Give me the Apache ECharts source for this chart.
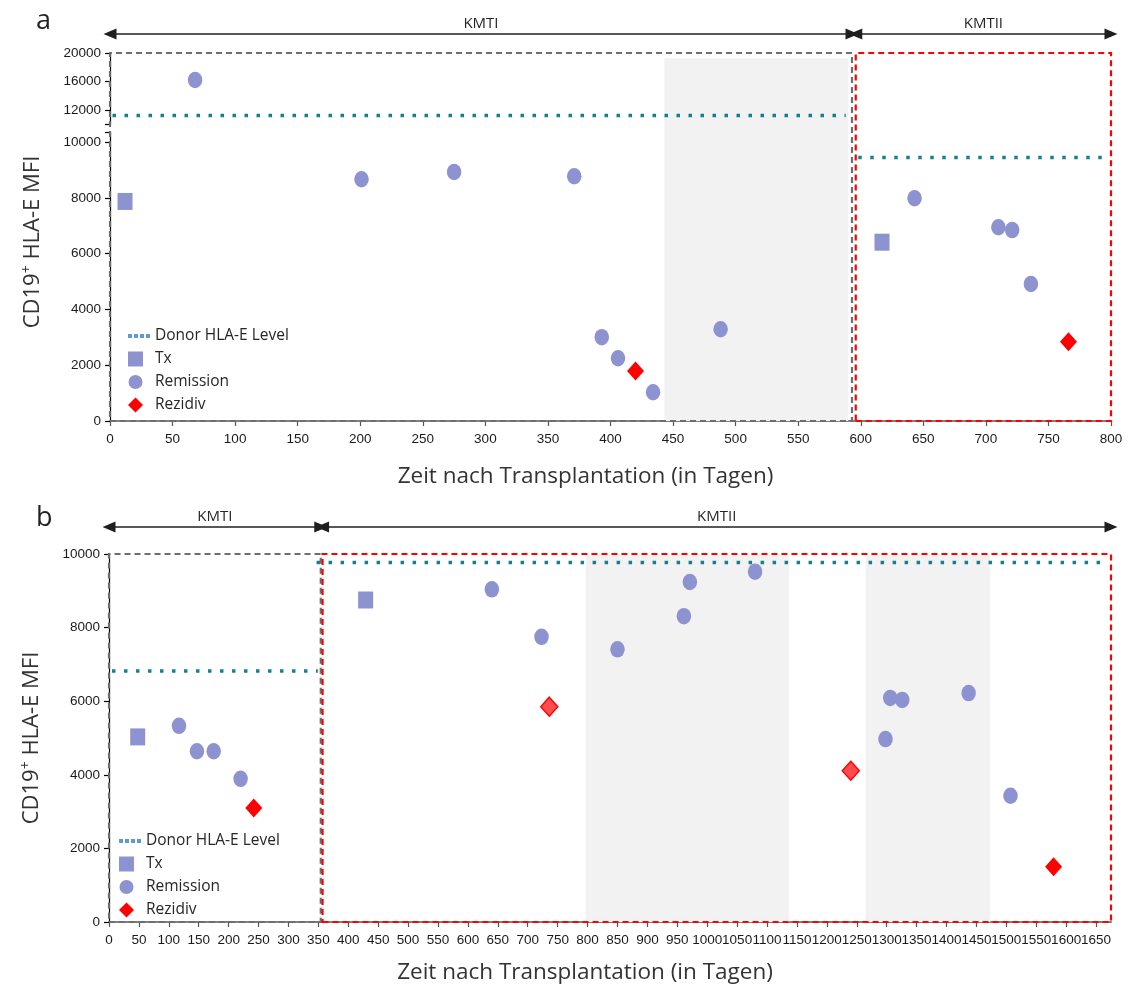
<!DOCTYPE html>
<html><head><meta charset="utf-8">
<script src="https://cdn.jsdelivr.net/npm/echarts@6/dist/echarts.min.js"></script>
<style>html,body{margin:0;padding:0;background:#fff}#c{width:1128px;height:997px}</style>
</head><body><div id="c"></div>
<script>
// ================= DATA =================
// Panel a
const aXTicks = [0,50,100,150,200,250,300,350,400,450,500,550,600,650,700,750,800];
const aYTicksUpper = [12000,16000,20000];
const aYTicksLower = [0,2000,4000,6000,8000,10000];
const aTx = [[12,7870],[617,6410]];
const aRemission = [[68,16200],[201,8665],[275,8925],[371,8775],[393,3005],[406,2250],[434,1030],[488,3290],[643,7985],[710,6945],[721,6845],[736,4910]];
const aRezidiv = [[420,1790],[766,2845]];
const aDonor = [{from:2,to:588,value:11200},{from:598,to:796,value:9450}];
const aPhases = [{name:'KMTI',from:0,to:593},{name:'KMTII',from:596,to:800}];
const aShade = [[443,590]];

// Panel b
const bXTicks = [0,50,100,150,200,250,300,350,400,450,500,550,600,650,700,750,800,850,900,950,1000,1050,1100,1150,1200,1250,1300,1350,1400,1450,1500,1550,1600,1650];
const bYTicks = [0,2000,4000,6000,8000,10000];
const bTx = [[48,5030],[429,8750]];
const bRemission = [[117,5330],[147,4640],[175,4640],[220,3890],[640,9040],[723,7750],[850,7410],[961,8310],[971,9240],[1080,9520],[1298,4970],[1306,6090],[1326,6035],[1437,6220],[1507,3430]];
const bRezidiv = [[242,3100],[736,5850],[1240,4110],[1579,1500]];
const bDonor = [{from:5,to:349,value:6820},{from:347,to:1670,value:9770}];
const bPhases = [{name:'KMTI',from:0,to:354},{name:'KMTII',from:357,to:1675}];
const bShade = [[797,1137],[1265,1473]];

// ================= STYLE =================
const FT = '"Open Sans","DejaVu Sans",sans-serif';
const FN = '"Liberation Sans",Arial,sans-serif';
const MARK = '#8c93d0';
const RED = '#ff0000';
const TEAL = '#17808e';
const A_SPLIT = 10360; // top of lower segment in panel a

const chart = echarts.init(document.getElementById('c'), null, {renderer:'canvas'});

const plain = v => String(v);
const tickLabel = {fontFamily:FN, fontSize:13.5, color:'#1a1a1a', formatter:plain, hideOverlap:false, showMaxLabel:true, showMinLabel:true};
function hiddenAxis(gi, min, max){ return {gridIndex:gi, type:'value', min, max, show:false}; }

function donorSeries(seg, xi, yi){
  return {type:'line', name:'Donor HLA-E Level', xAxisIndex:xi, yAxisIndex:yi, z:4,
    data:[[seg.from,seg.value],[seg.to,seg.value]], symbol:'none', showSymbol:false, silent:true,
    lineStyle:{color:TEAL, width:3.5, type:[3.5,8.5], cap:'butt'}};
}
function scatter(name, data, xi, yi, symbol, size, color, extra){
  return Object.assign({type:'scatter', name, xAxisIndex:xi, yAxisIndex:yi, z:5, symbol, symbolSize:size,
    itemStyle:{color, opacity:1}, data, silent:true}, extra||{});
}
function arrowSeries(phases, xi, yi){
  return {type:'scatter', xAxisIndex:xi, yAxisIndex:yi, data:[], silent:true, clip:false,
    markLine:{silent:true, symbol:['triangle','triangle'], symbolSize:[11,13], animation:false,
      lineStyle:{color:'#1f1f1f', width:1.5, type:'solid'},
      label:{show:true, formatter:'{b}', position:'insideMiddleTop', distance:3, fontFamily:FT, fontSize:15, color:'#262626'},
      data: phases.map(p=>[{name:p.name, coord:[p.from,0.5]},{coord:[p.to,0.5]}])}};
}
function overlaySeries(phases, shades, xi, yi, yLo, yHi, shadeHi){
  const items = [];
  shades.forEach(s=>items.push([{xAxis:s[0], yAxis:yLo, itemStyle:{color:'#f2f2f2', borderWidth:0}},{xAxis:s[1], yAxis:shadeHi}]));
  phases.forEach((p,i)=>items.push([{xAxis:p.from, yAxis:yLo, itemStyle:{color:'rgba(0,0,0,0)', borderColor: i===0?'#6e6e6e':RED, borderWidth:2.2, borderType:[6,4]}},{xAxis:p.to, yAxis:yHi}]));
  return {type:'scatter', xAxisIndex:xi, yAxisIndex:yi, data:[], silent:true, clip:false, z:1,
    markArea:{silent:true, animation:false, label:{show:false}, data:items}};
}

const SQ = 'path://M0,0h15v15h-15zM22,15L22,15';
const CI = 'path://M7.5,0.5A7,7,0,1,1,7.5,14.5A7,7,0,1,1,7.5,0.5zM0,0L0,0M22,15L22,15';
const DI = 'path://M7.5,0L15,7.5L7.5,15L0,7.5zM22,15L22,15';
const DOT = 'path://M0,5.5h4v4h-4zM6,5.5h4v4h-4zM12,5.5h4v4h-4zM18,5.5h4v4h-4zM0,0L0,0M22,15L22,15';
const legendItems = [
  {name:'Donor HLA-E Level', icon:DOT, itemStyle:{color:'#5b9bd5'}},
  {name:'Tx', icon:SQ, itemStyle:{color:MARK}},
  {name:'Remission', icon:CI, itemStyle:{color:MARK}},
  {name:'Rezidiv', icon:DI, itemStyle:{color:RED}}
];
const legendBase = {orient:'vertical', itemWidth:22, itemHeight:15, itemGap:7, selectedMode:false, padding:0,
  textStyle:{fontFamily:FT, fontSize:15.5, color:'#262626', lineHeight:15}, data:legendItems};

const yName = '{n|CD19}{s|+}{n| HLA-E MFI}';
const yNameStyle = {rich:{n:{fontFamily:FT, fontSize:22, color:'#333', lineHeight:26}, s:{fontFamily:FT, fontSize:14, color:'#333', verticalAlign:'top', lineHeight:15}}};
const xName = 'Zeit nach Transplantation (in Tagen)';

const yAxisCommon = {type:'value', splitLine:{show:false},
  axisLine:{show:true, lineStyle:{color:'#000', width:1.2}},
  axisTick:{show:true, length:5, lineStyle:{color:'#000', width:1.2}},
  axisLabel:Object.assign({margin:9}, tickLabel)};

const upA = aRemission.filter(d=>d[1] > A_SPLIT), lowA = aRemission.filter(d=>d[1] <= A_SPLIT);

const bRezData = bRezidiv.map((d,i)=> (i===1||i===2) ? {value:d, itemStyle:{color:'rgba(255,60,60,0.92)', borderColor:RED, borderWidth:1.5}} : d);

const option = {
  animation:false,
  backgroundColor:'#fff',
  title:[
    {text:'a', left:36, top:8, padding:0, textStyle:{fontFamily:FT, fontSize:27, fontWeight:'normal', color:'#222'}},
    {text:'b', left:36, top:505, padding:0, textStyle:{fontFamily:FT, fontSize:27, fontWeight:'normal', color:'#222'}}
  ],
  legend:[
    Object.assign({left:128, top:328}, legendBase),
    Object.assign({left:119, top:833}, legendBase)
  ],
  grid:[
    {left:110, width:1001, top:24, height:20, outerBoundsMode:'none'},
    {left:110, width:1001, top:53, height:368, outerBoundsMode:'none'},
    {left:110, width:1001, top:53, height:71, outerBoundsMode:'none'},
    {left:110, width:1001, top:132, height:289, outerBoundsMode:'none'},
    {left:109, width:1002, top:517, height:20, outerBoundsMode:'none'},
    {left:109, width:1002, top:554, height:368, outerBoundsMode:'none'}
  ],
  xAxis:[
    hiddenAxis(0,0,800),
    hiddenAxis(1,0,800),
    hiddenAxis(2,0,800),
    {gridIndex:3, type:'value', min:0, max:800, splitLine:{show:false},
      axisLine:{show:true, onZero:false, lineStyle:{color:'#7f7f7f', width:2}},
      axisTick:{show:true, length:5, customValues:aXTicks, lineStyle:{color:'#555', width:1.2}},
      axisLabel:Object.assign({}, tickLabel, {margin:11, customValues:aXTicks}),
      name:xName, nameLocation:'middle', nameGap:44,
      nameTextStyle:{fontFamily:FT, fontSize:22.5, color:'#333', padding:[0,50,0,0]}},
    hiddenAxis(4,0,1675),
    {gridIndex:5, type:'value', min:0, max:1675, splitLine:{show:false},
      axisLine:{show:true, onZero:false, lineStyle:{color:'#7f7f7f', width:2}},
      axisTick:{show:true, length:5, customValues:bXTicks, lineStyle:{color:'#555', width:1.2}},
      axisLabel:Object.assign({}, tickLabel, {margin:11, customValues:bXTicks}),
      name:xName, nameLocation:'middle', nameGap:39,
      nameTextStyle:{fontFamily:FT, fontSize:22.5, color:'#333', padding:[0,50,0,0]}}
  ],
  yAxis:[
    hiddenAxis(0,0,1),
    {gridIndex:1, type:'value', min:0, max:1, axisLine:{show:false}, axisTick:{show:false}, axisLabel:{show:false}, splitLine:{show:false},
      name:yName, nameLocation:'middle', nameGap:64, nameRotate:90, nameTextStyle:Object.assign({padding:[0,10,0,0]}, yNameStyle)},
    Object.assign({}, yAxisCommon, {gridIndex:2, min:10000, max:20000,
      axisTick:Object.assign({}, yAxisCommon.axisTick, {customValues:[10000].concat(aYTicksUpper)}),
      axisLabel:Object.assign({}, yAxisCommon.axisLabel, {customValues:aYTicksUpper})}),
    Object.assign({}, yAxisCommon, {gridIndex:3, min:0, max:A_SPLIT,
      axisTick:Object.assign({}, yAxisCommon.axisTick, {customValues:aYTicksLower.concat([A_SPLIT])}),
      axisLabel:Object.assign({}, yAxisCommon.axisLabel, {customValues:aYTicksLower})}),
    hiddenAxis(4,0,1),
    Object.assign({}, yAxisCommon, {gridIndex:5, min:0, max:10000,
      axisTick:Object.assign({}, yAxisCommon.axisTick, {customValues:bYTicks}),
      axisLabel:Object.assign({}, yAxisCommon.axisLabel, {customValues:bYTicks}),
      name:yName, nameLocation:'middle', nameGap:64, nameRotate:90, nameTextStyle:yNameStyle})
  ],
  series:[
    // panel a
    arrowSeries(aPhases, 0, 0),
    overlaySeries(aPhases, aShade, 1, 1, 0, 1, 0.986),
    donorSeries(aDonor[0], 2, 2),
    donorSeries(aDonor[1], 3, 3),
    scatter('Remission', upA, 2, 2, 'circle', [14.5,16.5], MARK),
    scatter('Tx', aTx, 3, 3, 'rect', [15,17], MARK),
    scatter('Remission', lowA, 3, 3, 'circle', [14.5,16.5], MARK),
    scatter('Rezidiv', aRezidiv, 3, 3, 'diamond', [17,19], RED),
    // panel b
    arrowSeries(bPhases, 4, 4),
    overlaySeries(bPhases, bShade, 5, 5, 0, 10000, 9970),
    donorSeries(bDonor[0], 5, 5),
    donorSeries(bDonor[1], 5, 5),
    scatter('Tx', bTx, 5, 5, 'rect', [15,17], MARK),
    scatter('Remission', bRemission, 5, 5, 'circle', [14.5,16.5], MARK),
    scatter('Rezidiv', bRezData, 5, 5, 'diamond', [17,19], RED)
  ]
};
chart.setOption(option);
</script></body></html>
